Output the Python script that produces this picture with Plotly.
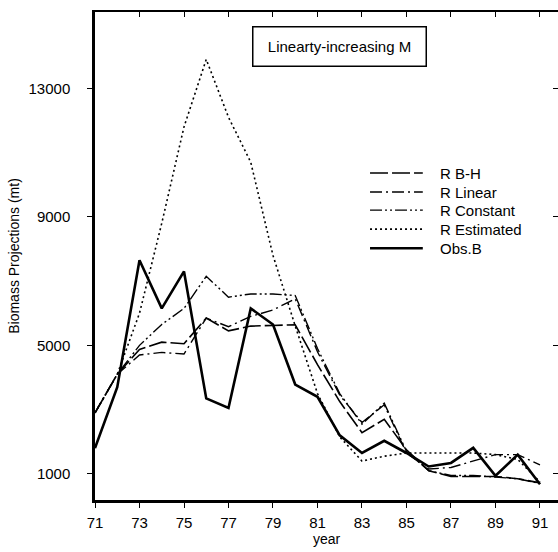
import plotly.graph_objects as go

# Projection years (19xx)
years = list(range(71, 92))

# Biomass projections (mt) under the linearly-increasing M scenario
r_bh = [2900, 4100, 4870, 5100, 5050, 5850, 5450, 5600, 5620, 5640, 4400,
        3250, 2280, 2700, 1750, 1100, 920, 920, 920, 850, 720]
r_linear = [2900, 4100, 4700, 4780, 4730, 5850, 5580, 5900, 6100, 6450, 4800,
            3450, 2600, 3150, 1650, 1150, 1200, 1400, 1600, 1600, 1280]
r_constant = [2900, 4100, 5000, 5650, 6150, 7150, 6500, 6600, 6600, 6550, 4900,
              3500, 2550, 3200, 1700, 1100, 950, 950, 900, 850, 700]
r_estimated = [2900, 4100, 6000, 8800, 11800, 13900, 12100, 10700, 7800, 5600, 3500,
               2150, 1400, 1550, 1650, 1650, 1650, 1650, 1600, 1450, 750]
obs_b = [1800, 3700, 7650, 6150, 7300, 3350, 3050, 6150, 5650, 3780, 3400,
         2200, 1650, 2030, 1650, 1230, 1340, 1810, 940, 1600, 680]

x_ticks = list(range(71, 92, 2))
y_ticks = [1000, 5000, 9000, 13000]

FONT = "Liberation Sans, Arial, sans-serif"

series = [
    ("R B-H", r_bh, dict(width=1.6, dash="18px,4px")),
    ("R Linear", r_linear, dict(width=1.4, dash="12px,4px,2px,4px")),
    ("R Constant", r_constant, dict(width=1.4, dash="12px,3px,2px,3px,2px,3px")),
    ("R Estimated", r_estimated, dict(width=1.6, dash="2px,3px")),
    ("Obs.B", obs_b, dict(width=2.6, dash="solid")),
]

fig = go.Figure()
for name, vals, line in series:
    fig.add_trace(go.Scatter(
        x=years, y=vals, name=name, mode="lines",
        line=dict(color="black", **line), showlegend=False,
    ))

x_range = [71, 91.81]
y_range = [187, 15375]

fig.update_layout(
    width=558, height=552,
    margin=dict(l=95, r=0, t=12, b=52),
    paper_bgcolor="white", plot_bgcolor="white",
    font=dict(family=FONT, size=15, color="black"),
    xaxis=dict(
        range=x_range, tickvals=x_ticks, ticktext=[str(v) for v in x_ticks],
        showgrid=False, zeroline=False,
        showline=True, linecolor="black", linewidth=2.5,
        ticks="outside", ticklen=5, tickwidth=1, tickcolor="black",
        ticklabelstandoff=2,
        title=dict(text="year", standoff=0, font=dict(size=14)),
    ),
    xaxis2=dict(
        range=x_range, tickvals=x_ticks, overlaying="x", side="top",
        showticklabels=False, showgrid=False, zeroline=False,
        showline=True, linecolor="black", linewidth=2,
        ticks="inside", ticklen=5, tickwidth=1, tickcolor="black",
    ),
    yaxis=dict(
        range=y_range, tickvals=y_ticks, ticktext=[str(v) for v in y_ticks],
        showgrid=False, zeroline=False,
        showline=True, linecolor="black", linewidth=2.5,
        ticks="outside", ticklen=5, tickwidth=1, tickcolor="black",
        ticklabelstandoff=14,
        title=dict(text="Biomass Projections (mt)", standoff=6, font=dict(size=14)),
    ),
    yaxis2=dict(
        range=y_range, tickvals=y_ticks, overlaying="y", side="right",
        showticklabels=False, showgrid=False, zeroline=False, showline=False,
        ticks="inside", ticklen=5, tickwidth=1, tickcolor="black",
    ),
)

# Invisible helper trace so the top/right tick axes are drawn
fig.add_trace(go.Scatter(x=[years[0]], y=[obs_b[0]], xaxis="x2", yaxis="y2",
                         mode="markers", marker=dict(opacity=0),
                         showlegend=False, hoverinfo="skip"))

# Key: line sample + label for each series
key_rows_y = [0.670, 0.631, 0.594, 0.555, 0.516]
for (name, _, line), ky in zip(series, key_rows_y):
    fig.add_shape(type="line", xref="paper", yref="paper",
                  x0=0.594, x1=0.708, y0=ky, y1=ky,
                  line=dict(color="black", width=line["width"], dash=line["dash"]))
    fig.add_annotation(text=name, xref="paper", yref="paper",
                       x=0.741, y=ky, xanchor="left", yanchor="middle",
                       showarrow=False, font=dict(size=15))

fig.add_annotation(
    text="Linearty-increasing M", xref="paper", yref="paper",
    x=0.527, y=0.930, xanchor="center", yanchor="middle",
    showarrow=False, font=dict(size=15),
    bordercolor="black", borderwidth=1.5, borderpad=4,
    width=164, height=30, bgcolor="white",
)

fig.write_html("out.html")
